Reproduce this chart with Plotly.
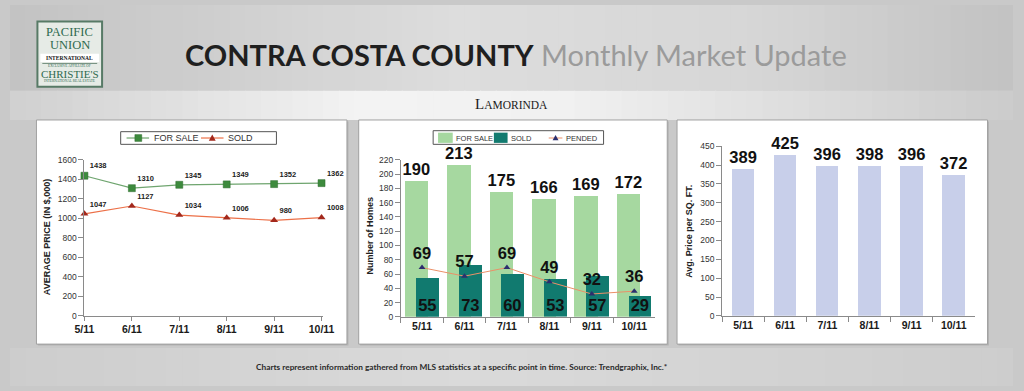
import plotly.graph_objects as go

W, H = 1024, 391

# ---------------- data ----------------
months = ["5/11", "6/11", "7/11", "8/11", "9/11", "10/11"]
price_for_sale = [1438, 1310, 1345, 1349, 1352, 1362]
price_sold = [1047, 1127, 1034, 1006, 980, 1008]
homes_for_sale = [190, 213, 175, 166, 169, 172]
homes_sold = [55, 73, 60, 53, 57, 29]
homes_pended = [69, 57, 69, 49, 32, 36]
price_sqft = [389, 425, 396, 398, 396, 372]
price_ticks = list(range(0, 1601, 200))
homes_ticks = list(range(0, 221, 20))
sqft_ticks = list(range(0, 451, 50))

# colours
C_FS_LINE, C_FS_MK = "#6fa56f", "#3d8a3d"
C_SD_LINE, C_SD_MK = "#ec7048", "#a3281c"
C_FS_BAR, C_SD_BAR = "#a6d8a0", "#117a6f"
C_PD_LINE, C_PD_MK = "#eb9068", "#2c2f6e"
C_SQFT = "#c8cfea"


def fx(px):
    return px / W


def fy(py):
    return 1 - py / H


SANS = "Liberation Sans, Arial"
BIG = dict(family=SANS, size=16.5, color="#111", weight="bold")
SMALL = dict(family=SANS, size=7.5, color="#222", weight="bold")

fig = go.Figure()

# ---------------- panel 1: average price ----------------
fig.add_trace(go.Scatter(
    x=months, y=price_for_sale, name="FOR SALE", mode="lines+markers+text",
    text=[str(v) for v in price_for_sale], textposition="top right", textfont=SMALL,
    line=dict(color=C_FS_LINE, width=1.2),
    marker=dict(symbol="square", size=7, color=C_FS_MK, line=dict(color="#2d6a2d", width=0.5)),
    xaxis="x", yaxis="y", showlegend=False, cliponaxis=False))
fig.add_trace(go.Scatter(
    x=months, y=price_sold, name="SOLD", mode="lines+markers+text",
    text=[str(v) for v in price_sold], textposition="top right", textfont=SMALL,
    line=dict(color=C_SD_LINE, width=1.2),
    marker=dict(symbol="triangle-up", size=7, color=C_SD_MK),
    xaxis="x", yaxis="y", showlegend=False, cliponaxis=False))

# ---------------- panel 2: number of homes ----------------
fig.add_trace(go.Bar(
    x=months, y=homes_for_sale, name="FOR SALE", marker=dict(color=C_FS_BAR, line=dict(width=0)),
    offset=-0.415, width=0.555, text=[str(v) for v in homes_for_sale], textposition="outside",
    textangle=0, textfont=BIG, constraintext="none",
    xaxis="x2", yaxis="y2", showlegend=False, cliponaxis=False))
fig.add_trace(go.Bar(
    x=months, y=homes_sold, name="SOLD", marker=dict(color=C_SD_BAR, line=dict(width=0)),
    offset=-0.14, width=0.54, text=[str(v) for v in homes_sold], textposition="inside",
    insidetextanchor="start", textangle=0, textfont=BIG,
    constraintext="none", xaxis="x2", yaxis="y2", showlegend=False))
fig.add_trace(go.Scatter(
    x=months, y=homes_pended, name="PENDED", mode="lines+markers+text",
    text=[str(v) for v in homes_pended], textposition="top center", textfont=BIG,
    line=dict(color=C_PD_LINE, width=1),
    marker=dict(symbol="triangle-up", size=6, color=C_PD_MK),
    xaxis="x2", yaxis="y2", showlegend=False, cliponaxis=False))

# ---------------- panel 3: price per sq ft ----------------
fig.add_trace(go.Bar(
    x=months, y=price_sqft, name="PRICE/SQFT", marker=dict(color=C_SQFT, line=dict(width=0)),
    width=0.53, text=[str(v) for v in price_sqft], textposition="outside", textangle=0,
    textfont=BIG, constraintext="none",
    xaxis="x3", yaxis="y3", showlegend=False, cliponaxis=False))

axis_common = dict(showgrid=False, zeroline=False, showline=True, linecolor="#8a8a8a",
                   linewidth=1, ticks="outside", tickcolor="#8a8a8a", fixedrange=True)
xtick_font = dict(family=SANS, size=10.5, color="#1a1a1a", weight="bold")
ytick_font = dict(family=SANS, size=8.5, color="#333")

fig.update_layout(
    width=W, height=H, margin=dict(l=0, r=0, t=0, b=0), autosize=False,
    paper_bgcolor="#c9c9c9", plot_bgcolor="rgba(0,0,0,0)",
    barmode="overlay", bargap=0, showlegend=False,
    xaxis=dict(domain=[fx(76), fx(320)], anchor="y", type="category", range=[0, 5.04],
               ticklen=4, tickfont=xtick_font, **axis_common),
    yaxis=dict(domain=[fy(319), fy(159)], anchor="x", range=[0, 1600], tickvals=price_ticks,
               ticklen=5, tickfont=ytick_font, **axis_common),
    xaxis2=dict(domain=[fx(399), fx(659)], anchor="y2", type="category", range=[-0.5, 5.5],
                tickson="boundaries", ticklen=5, tickfont=xtick_font, **axis_common),
    yaxis2=dict(domain=[fy(320), fy(159)], anchor="x2", range=[0, 220], tickvals=homes_ticks,
                ticklen=5, tickfont=ytick_font, **axis_common),
    xaxis3=dict(domain=[fx(727), fx(985)], anchor="y3", type="category", range=[-0.5, 5.5],
                tickson="boundaries", ticklen=5, tickfont=xtick_font, **axis_common),
    yaxis3=dict(domain=[fy(319), fy(145)], anchor="x3", range=[0, 450], tickvals=sqft_ticks,
                ticklen=5, tickfont=ytick_font, **axis_common),
)

# ---------------- background ----------------
def hex2rgb(h):
    h = h.lstrip("#")
    return tuple(int(h[i:i + 2], 16) for i in (0, 2, 4))


def interp(stops, t):
    for (t0, c0), (t1, c1) in zip(stops[:-1], stops[1:]):
        if t0 <= t <= t1:
            a = (t - t0) / (t1 - t0) if t1 > t0 else 0
            r0, r1 = hex2rgb(c0), hex2rgb(c1)
            return "rgb(%d,%d,%d)" % tuple(round(r0[k] + (r1[k] - r0[k]) * a) for k in range(3))
    return stops[-1][1]


shapes = []


def rect(x0, y0, x1, y1, fill, line_color=None, lw=0, layer="below"):
    shapes.append(dict(type="rect", xref="paper", yref="paper", layer=layer,
                       x0=fx(x0), x1=fx(x1), y0=fy(y1), y1=fy(y0), fillcolor=fill,
                       line=dict(color=line_color or fill, width=lw)))


def hline(x0, x1, y, color, lw=1, layer="below"):
    shapes.append(dict(type="line", xref="paper", yref="paper", layer=layer,
                       x0=fx(x0), x1=fx(x1), y0=fy(y), y1=fy(y), line=dict(color=color, width=lw)))


def tri(cx, cy, s, color, layer="above"):
    path = "M %f,%f L %f,%f L %f,%f Z" % (fx(cx - s), fy(cy + s * 0.8), fx(cx + s), fy(cy + s * 0.8),
                                          fx(cx), fy(cy - s))
    shapes.append(dict(type="path", xref="paper", yref="paper", layer=layer, path=path,
                       fillcolor=color, line=dict(color=color, width=0)))


def band(y0, y1, stops, n=64):
    for i in range(n):
        t = (i + 0.5) / n
        shapes.append(dict(type="rect", xref="paper", yref="paper", layer="below",
                           x0=i / n, x1=min(1, (i + 1) / n + 0.001), y0=fy(y1), y1=fy(y0),
                           fillcolor=interp(stops, t), line=dict(width=0)))


band(0, 88, [(0, "#c3c3c3"), (0.45, "#dddddd"), (0.75, "#d6d6d6"), (1, "#c2c2c2")])
band(88, 118, [(0, "#d0d0d0"), (0.35, "#f3f3f3"), (0.55, "#f1f1f1"), (1, "#cbcbcb")])
band(352, 391, [(0, "#cdcdcd"), (0.45, "#dadada"), (1, "#cdcdcd")])

# panels
for (x0, x1) in [(27, 344), (356, 671), (681, 998)]:
    rect(x0 + 1.5, 119.5, x1 + 1.5, 349.5, "#b3b3b3")
    rect(x0, 118, x1, 348, "white", "#a0a0a0", 1)

# logo
rect(28, 17, 94, 84, "#e6ebe6", "#577a66", 2)
rect(31, 50, 91, 58.5, "white")
hline(33, 89, 60, "#577a66", 0.8)

# legends (drawn as boxes with keys)
rect(113, 130, 272, 143, "white", "#555", 1, layer="above")
hline(119, 142, 136.5, C_FS_LINE, 1.2, layer="above")
rect(127.5, 133, 134.5, 140, C_FS_MK, "#2d6a2d", 0.5, layer="above")
hline(195, 218, 136.5, C_SD_LINE, 1.2, layer="above")
tri(206.5, 136.5, 3.5, C_SD_MK)

rect(432, 129, 606, 143, "white", "#555", 1, layer="above")
rect(437, 131, 452, 141.5, C_FS_BAR, layer="above")
rect(494, 131, 508, 141.5, C_SD_BAR, layer="above")
hline(550, 564, 136.5, C_PD_LINE, 1, layer="above")
tri(557, 136.5, 3, C_PD_MK)
fig.update_layout(shapes=shapes)

# ---------------- text ----------------
ann = []


def text(x, y, s, size, color="#222", family=SANS, weight=None, angle=0, xanchor="center"):
    f = dict(family=family, size=size, color=color)
    if weight:
        f["weight"] = weight
    ann.append(dict(x=fx(x), y=fy(y), xref="paper", yref="paper", text=s, showarrow=False,
                    font=f, textangle=angle, xanchor=xanchor, yanchor="middle", borderpad=0))


SERIF = "Liberation Serif, Times New Roman, serif"
text(61, 28, "PACIFIC", 12.5, "#2f6a4f", SERIF)
text(61, 41, "UNION", 12.5, "#2f6a4f", SERIF)
text(61, 54.3, "INTERNATIONAL", 5.5, "#111", SERIF, weight="bold")
text(61, 63, "EXCLUSIVE AFFILIATE OF", 3.5, "#2f6a4f", SERIF)
text(61, 71, "CHRISTIE'S", 11, "#2f6a4f", SERIF)
text(61, 78.5, "INTERNATIONAL REAL ESTATE", 3.5, "#2f6a4f", SERIF)

text(178, 51, "<b>CONTRA COSTA COUNTY</b> <span style='color:#9b9b9b'>Monthly Market Update</span>",
     29, "#1f1f1f", "Lato, Open Sans, sans-serif", xanchor="left")
text(512, 102, "<span style='font-size:15px'>L</span>AMORINDA", 11.5, "#1a1a1a", SERIF)

text(38, 238, "AVERAGE PRICE (IN $,000)", 9, "#222", SANS, weight="bold", angle=-90)
text(367, 236, "Number of Homes", 9, "#222", SANS, weight="bold", angle=-90)
text(693, 232, "Avg. Price per SQ. FT.", 9, "#222", SANS, weight="bold", angle=-90)

# legend labels
text(146, 136.5, "FOR SALE", 9, "#333", SANS, xanchor="left")
text(222, 136.5, "SOLD", 9, "#333", SANS, xanchor="left")
text(454, 136.5, "FOR SALE", 7.5, "#333", SANS, xanchor="left")
text(510, 136.5, "SOLD", 7.5, "#333", SANS, xanchor="left")
text(567, 136.5, "PENDED", 7.5, "#333", SANS, xanchor="left")

text(461, 371, "Charts represent information gathered from MLS statistics at a specific point in time. Source: Trendgraphix, Inc.*",
     8.3, "#2a2a2a", "Lato, Open Sans, sans-serif", weight="bold")

fig.update_layout(annotations=ann)
fig.write_html("out.html", config={"displayModeBar": False},
               post_script="document.body.style.margin='0';document.body.style.overflow='hidden';")
